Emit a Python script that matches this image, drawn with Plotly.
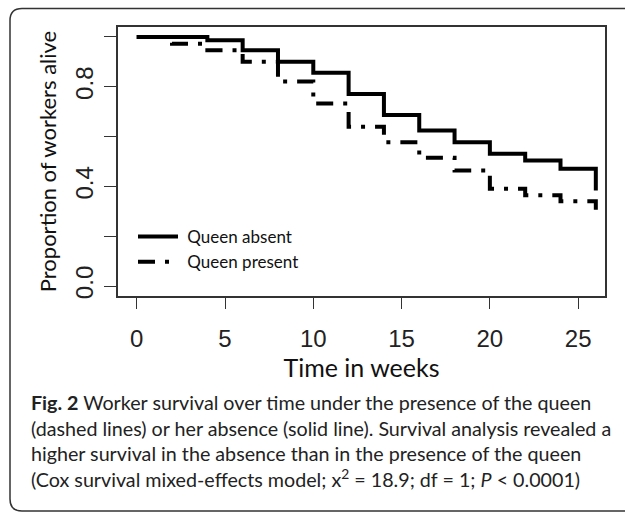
import plotly.graph_objects as go

# ---- data ----
weeks_absent = [0, 4, 6, 8, 10, 12, 14, 16, 18, 20, 22, 24, 26]
surv_absent = [1.0, 0.987, 0.947, 0.90, 0.856, 0.771, 0.687, 0.624, 0.577, 0.531, 0.504, 0.471, 0.384]

weeks_present = [0, 2, 4, 6, 8, 10, 12, 14, 16, 18, 20, 22, 24, 26]
surv_present = [1.0, 0.973, 0.947, 0.90, 0.821, 0.733, 0.64, 0.577, 0.515, 0.464, 0.391, 0.364, 0.34, 0.268]

x_tick_vals = [0, 5, 10, 15, 20, 25]
y_label_vals = [0.0, 0.4, 0.8]
y_label_text = ["0.0", "0.4", "0.8"]
y_minor_vals = [0.2, 0.6, 1.0]

W, H = 625, 513
PL, PR, PT, PB = 118, 605, 27, 296


def px_x(x):
    return (x - PL) / (PR - PL)


def px_y(y):
    return (PB - y) / (PB - PT)


fig = go.Figure()
fig.add_trace(go.Scatter(
    x=weeks_absent, y=surv_absent, mode="lines", line_shape="hv",
    name="\u00a0Queen absent", line=dict(color="black", width=4)))
fig.add_trace(go.Scatter(
    x=weeks_present, y=surv_present, mode="lines", line_shape="hv",
    name="\u00a0Queen present",
    line=dict(color="black", width=4, dash="17px,10px,4px,10px")))

tick_font = dict(family="Liberation Sans, Arial, sans-serif", size=24, color="#222")
title_font = "Lato, Calibri, sans-serif"

fig.update_xaxes(
    range=[-1.06, 26.52], tickvals=x_tick_vals, ticks="outside", ticklen=11,
    tickwidth=1.2, tickcolor="#333", showline=True, mirror=True, linecolor="#333",
    linewidth=1.5, showgrid=False, zeroline=False, tickfont=tick_font,
    ticklabelstandoff=9, automargin=False,
    title=dict(text="Time in weeks", font=dict(family=title_font, size=25, color="#111"),
               standoff=6))
fig.update_yaxes(
    range=[-0.04, 1.04], tickvals=y_label_vals, ticktext=y_label_text, ticks="outside",
    ticklen=12, tickwidth=1.2, tickcolor="#333", showline=True, mirror=True,
    linecolor="#333", linewidth=1.5, showgrid=False, zeroline=False,
    minor=dict(tickvals=y_minor_vals, ticks="outside", ticklen=12, tickwidth=1.2,
               tickcolor="#333", showgrid=False),
    tickfont=tick_font, tickangle=-90, ticklabelstandoff=2, automargin=False,
    title=dict(text="Proportion of workers alive",
               font=dict(family=title_font, size=22, color="#111"), standoff=8))

caption = ("<b>Fig. 2</b> Worker survival over time under the presence of the queen<br>"
           "(dashed lines) or her absence (solid line). Survival analysis revealed a<br>"
           "higher survival in the absence than in the presence of the queen<br>"
           "(Cox survival mixed-effects model; x<sup>2</sup> = 18.9; df = 1; <i>P</i> &lt; 0.0001)")
fig.add_annotation(
    text=caption, xref="paper", yref="paper", x=px_x(29), y=px_y(389),
    xanchor="left", yanchor="top", align="left", showarrow=False,
    font=dict(family=title_font, size=19.7, color="#222"))

# rounded outer frame of the figure panel
pts = [(630, 8.5), (22, 8.5), (10, 8.5), (10, 20.5), (10, 499), (10, 511), (22, 511), (630, 511)]
p = [(px_x(a), px_y(b)) for a, b in pts]
path = (f"M {p[0][0]},{p[0][1]} L {p[1][0]},{p[1][1]} Q {p[2][0]},{p[2][1]} {p[3][0]},{p[3][1]} "
        f"L {p[4][0]},{p[4][1]} Q {p[5][0]},{p[5][1]} {p[6][0]},{p[6][1]} L {p[7][0]},{p[7][1]}")
fig.add_shape(type="path", path=path, xref="paper", yref="paper",
              line=dict(color="#333", width=1.5))

fig.update_layout(
    width=W, height=H, margin=dict(l=PL, r=W - PR, t=PT, b=H - PB, autoexpand=False),
    paper_bgcolor="white", plot_bgcolor="white",
    showlegend=True,
    legend=dict(x=px_x(133), y=px_y(219), xanchor="left", yanchor="top",
                bgcolor="rgba(0,0,0,0)", itemwidth=40,
                font=dict(family=title_font, size=17, color="#111"),
                tracegroupgap=0),
)

fig.write_html("out.html", config={"displayModeBar": False},
               post_script="document.body.style.margin='0px';document.body.style.overflow='hidden';")
